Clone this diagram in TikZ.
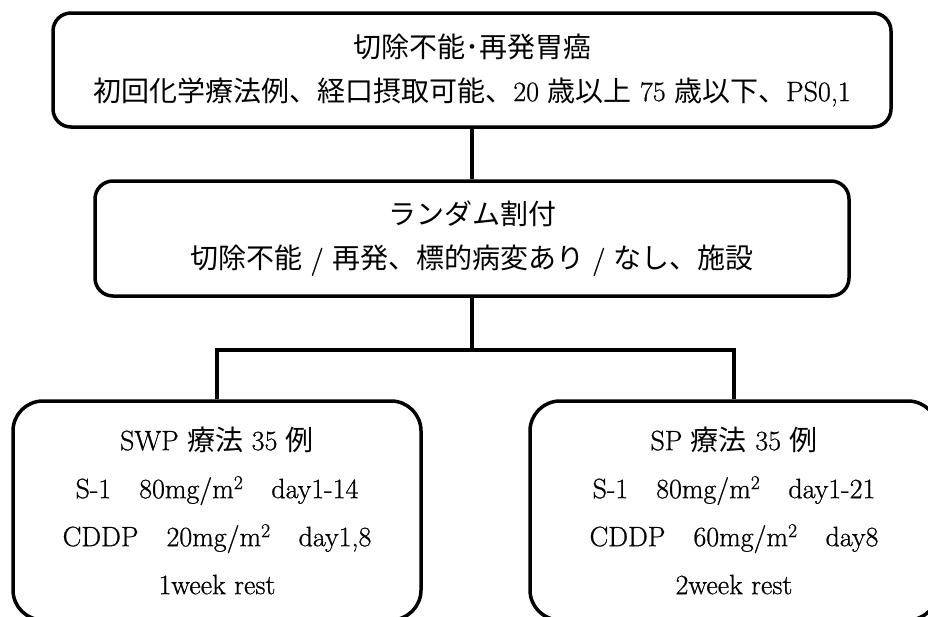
\documentclass[tikz,border=0pt]{standalone}
\usepackage{fontspec}
\setmainfont{Latin Modern Roman}[FakeBold=0.8]
\newfontfamily\cjk{Noto Sans CJK JP}
\begin{document}
\begin{tikzpicture}[x=1pt,y=-1pt,
  box/.style={draw, line width=3.5pt, rounded corners=18pt, align=center, inner sep=0pt,
              font=\fontsize{28}{44}\selectfont},
  armbox/.style={box, rounded corners=30pt, minimum width=408pt, minimum height=219pt,
              font=\fontsize{28}{48}\selectfont},
  link/.style={line width=3.5pt}]
\useasboundingbox (0,0) rectangle (928,616);
\clip (0,0) rectangle (928,616);

\node[box, minimum width=838pt, minimum height=114pt] (top) at (472,70)
  {{\cjk 切除不能･再発胃癌}\\
   {\cjk 初回化学療法例、経口摂取可能、}20 {\cjk 歳以上} 75 {\cjk 歳以下、}PS0,1};

\node[box, minimum width=754pt, minimum height=115pt] (mid) at (472,238.5)
  {{\cjk ランダム割付}\\
   {\cjk 切除不能} / {\cjk 再発、標的病変あり} / {\cjk なし、施設}};

\node[armbox] (left) at (217,510.5)
  {SWP {\cjk 療法} 35 {\cjk 例}\\
   S-1\hspace{1em}80mg/m\textsuperscript{2}\hspace{1em}day1-14\\
   CDDP\hspace{1em}20mg/m\textsuperscript{2}\hspace{1em}day1,8\\
   1week rest};

\node[armbox] (right) at (734,510.5)
  {SP {\cjk 療法} 35 {\cjk 例}\\
   S-1\hspace{1em}80mg/m\textsuperscript{2}\hspace{1em}day1-21\\
   CDDP\hspace{1em}60mg/m\textsuperscript{2}\hspace{1em}day8\\
   2week rest};

\coordinate (split) at (472,350);

\draw[link] (top.south) -- (mid.north);
\draw[link] (mid.south) -- (split);
\draw[link] (left.north) |- (split) -| (right.north);
\end{tikzpicture}
\end{document}
